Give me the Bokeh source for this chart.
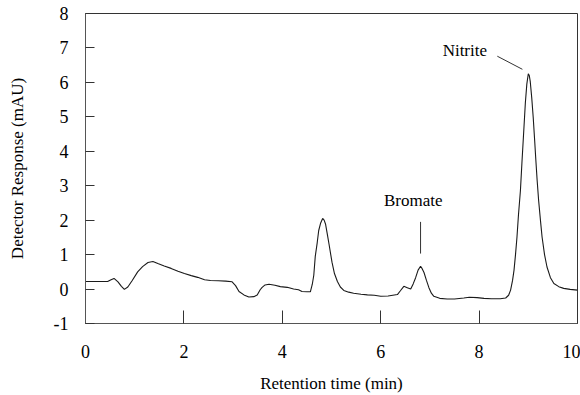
from bokeh.plotting import figure
from bokeh.models import Label, Range1d, FixedTicker
from bokeh.embed import file_html
from bokeh.resources import INLINE

# Retention time (min) and detector response (mAU)
time_min = [0.0, 0.45, 0.52, 0.58, 0.66, 0.73, 0.79, 0.86, 0.95, 1.06, 1.16, 1.27, 1.37, 1.47, 1.6, 1.74,
            1.88, 2.01, 2.15, 2.28, 2.42, 2.54, 2.7, 2.85, 2.98, 3.05, 3.12, 3.22, 3.32, 3.42, 3.49, 3.55,
            3.59, 3.65, 3.73, 3.85, 3.96, 4.1, 4.23, 4.33, 4.40, 4.50, 4.57, 4.61, 4.64, 4.67, 4.71, 4.74,
            4.78, 4.82, 4.85, 4.88, 4.92, 4.95, 5.01, 5.06, 5.12, 5.18, 5.25, 5.35, 5.45, 5.6, 5.73, 5.87,
            6.0, 6.15, 6.34, 6.40, 6.47, 6.54, 6.61, 6.66, 6.71, 6.76, 6.81, 6.84, 6.88, 6.93, 6.98, 7.03,
            7.08, 7.2, 7.35, 7.5, 7.69, 7.8, 7.96, 8.1, 8.25, 8.43, 8.54, 8.60, 8.64, 8.68, 8.71, 8.74,
            8.77, 8.80, 8.84, 8.87, 8.90, 8.94, 8.97, 9.0, 9.02, 9.04, 9.07, 9.10, 9.13, 9.15, 9.18, 9.21,
            9.25, 9.28, 9.33, 9.38, 9.45, 9.52, 9.62, 9.72, 9.85, 10.0]
response = [0.22, 0.22, 0.27, 0.31, 0.21, 0.08, -0.01, 0.06, 0.25, 0.50, 0.65, 0.77, 0.80, 0.74, 0.67, 0.60,
            0.52, 0.45, 0.39, 0.34, 0.27, 0.25, 0.24, 0.23, 0.21, 0.10, -0.07, -0.17, -0.23, -0.22, -0.17, -0.02,
            0.05, 0.12, 0.14, 0.11, 0.07, 0.05, 0.0, -0.02, -0.07, -0.08, -0.08, 0.14, 0.40, 0.95, 1.35, 1.70,
            1.92, 2.05, 2.0, 1.88, 1.55, 1.30, 0.78, 0.45, 0.22, 0.06, -0.04, -0.09, -0.12, -0.15, -0.17, -0.18,
            -0.21, -0.20, -0.16, -0.05, 0.08, 0.04, 0.0, 0.15, 0.33, 0.55, 0.66, 0.60, 0.48, 0.25, 0.04, -0.12,
            -0.21, -0.27, -0.29, -0.29, -0.26, -0.24, -0.25, -0.27, -0.28, -0.28, -0.26, -0.18, -0.03, 0.25, 0.55, 1.00,
            1.51, 2.15, 2.86, 3.65, 4.40, 5.40, 5.95, 6.25, 6.20, 6.02, 5.55, 4.98, 4.30, 3.82, 3.15, 2.57,
            1.95, 1.51, 1.00, 0.64, 0.33, 0.16, 0.07, 0.02, -0.01, -0.03]

x_ticks = [0, 2, 4, 6, 8, 10]
y_ticks = [-1, 0, 1, 2, 3, 4, 5, 6, 7, 8]
peak_names = ["Bromate", "Nitrite"]

FONT = "Liberation Serif"

p = figure(width=580, height=395, output_backend="svg", toolbar_location=None,
           x_range=Range1d(0, 10), y_range=Range1d(-1, 8),
           min_border_left=85, min_border_right=3, min_border_top=13, min_border_bottom=70)
p.background_fill_color = "white"
p.border_fill_color = "white"
p.outline_line_color = "#333333"
p.outline_line_width = 1
p.xgrid.visible = False
p.ygrid.visible = False

p.line(time_min, response, line_color="#1a1a1a", line_width=1.1)

# axes
p.xaxis.ticker = FixedTicker(ticks=x_ticks)
p.yaxis.ticker = FixedTicker(ticks=y_ticks)
p.xaxis.major_label_overrides = {t: str(t) for t in x_ticks}
p.yaxis.major_label_overrides = {t: str(t) for t in y_ticks}
for ax in (p.xaxis, p.yaxis):
    ax.axis_line_color = "#555555"
    ax.major_tick_line_color = "#333333"
    ax.major_tick_out = 0
    ax.minor_tick_line_color = None
    ax.major_label_text_font = FONT
    ax.major_label_text_font_size = "18px"
    ax.major_label_text_color = "black"
    ax.axis_label_text_font = FONT
    ax.axis_label_text_font_size = "17px"
    ax.axis_label_text_font_style = "normal"
    ax.axis_label_text_color = "black"
p.xaxis.major_tick_in = 13
p.yaxis.major_tick_in = 9
p.xaxis.major_label_standoff = 21
p.yaxis.major_label_standoff = 17
p.xaxis.axis_label = "Retention time (min)"
p.yaxis.axis_label = "Detector Response (mAU)"
p.xaxis.axis_label_standoff = 13
p.yaxis.axis_label_standoff = 24

# annotations
p.add_layout(Label(x=6.66, y=2.57, text=peak_names[0], text_font=FONT, text_font_size="17px",
                   text_align="center", text_baseline="middle", text_color="black"))
p.add_layout(Label(x=7.71, y=6.94, text=peak_names[1], text_font=FONT, text_font_size="17px",
                   text_align="center", text_baseline="middle", text_color="black"))
p.segment(x0=[6.81, 8.37], y0=[1.95, 6.76], x1=[6.81, 8.88], y1=[1.03, 6.38],
          line_color="#333333", line_width=1)

open("out.html", "w").write(file_html(p, INLINE))
